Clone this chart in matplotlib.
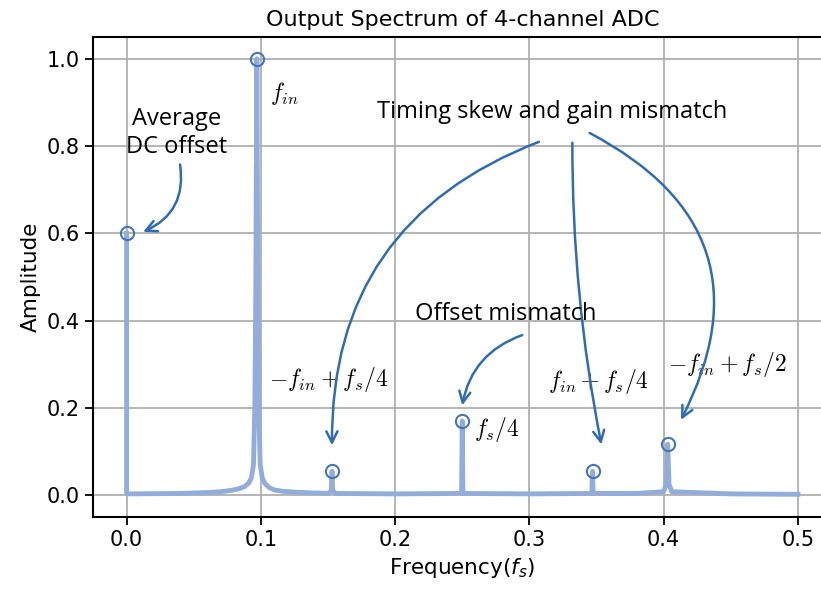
import matplotlib
matplotlib.use('Agg')
import matplotlib.pyplot as plt
import numpy as np

matplotlib.rc('mathtext', fontset='cm')

# spectrum (frequency in fs, amplitude)
freq = [0.0, 0.0, 0.0008, 0.04, 0.06, 0.07, 0.078, 0.084, 0.088, 0.091, 0.093,
        0.0945, 0.0955, 0.0962, 0.097, 0.0978, 0.0985, 0.0995, 0.101, 0.103,
        0.106, 0.11, 0.116, 0.125, 0.14, 0.15,
        0.1525, 0.153, 0.1535, 0.156, 0.2, 0.2495, 0.25, 0.2505, 0.3, 0.3465,
        0.347, 0.3475, 0.38, 0.4, 0.402, 0.403, 0.404, 0.406, 0.45, 0.5]
amp = [0.6, 0.003, 0.003, 0.004, 0.006, 0.008, 0.011, 0.015, 0.02, 0.028, 0.04,
       0.07, 0.2, 0.45, 1.0, 0.45, 0.2, 0.07, 0.04, 0.027,
       0.018, 0.012, 0.009, 0.007, 0.005, 0.004,
       0.01, 0.055, 0.01, 0.004, 0.003, 0.004, 0.17, 0.004, 0.003, 0.004,
       0.055, 0.004, 0.004, 0.008, 0.025, 0.117, 0.025, 0.008, 0.003, 0.002]

# peaks marked with circles
peak_f = [0.0, 0.097, 0.153, 0.25, 0.347, 0.403]
peak_a = [0.6, 1.0, 0.055, 0.17, 0.055, 0.117]

fig = plt.figure(figsize=(8.21, 5.91), dpi=100)
ax = fig.add_axes([0.1133, 0.1252, 0.8995, 0.8122])

ax.plot(freq, amp, color='#92acdc', lw=3.5, solid_joinstyle='round')
ax.plot(peak_f, peak_a, 'o', mfc='none', mec='#4575ba', ms=9.5, mew=1.5)

ax.set_xlim(-0.025, 0.525)
ax.set_ylim(-0.05, 1.05)
ax.set_xticks([0.0, 0.1, 0.2, 0.3, 0.4, 0.5])
ax.set_yticks([0.0, 0.2, 0.4, 0.6, 0.8, 1.0])
ax.tick_params(labelsize=15, width=1.3, length=6)
ax.grid(True, color='#b0b0b0', lw=1.3)
for s in ax.spines.values():
    s.set_linewidth(1.5)

ax.set_title('Output Spectrum of 4-channel ADC', fontsize=16, pad=8)
ax.set_xlabel('Frequency($f_s$)', fontsize=15.5, math_fontfamily='dejavusans')
ax.set_ylabel('Amplitude', fontsize=15.5)

# math labels
ax.text(0.107, 0.905, r'$f_{in}$', fontsize=17)
ax.text(0.106, 0.25, r'$-f_{in}+f_s/4$', fontsize=17)
ax.text(0.259, 0.135, r'$f_s/4$', fontsize=17)
ax.text(0.314, 0.245, r'$f_{in}+f_s/4$', fontsize=17)
ax.text(0.403, 0.285, r'$-f_{in}+f_s/2$', fontsize=17)

# annotations
tkw = dict(family='Open Sans', fontsize=17, ha='center', va='center')
akw = dict(arrowstyle='->', color='#2f6cb3', lw=1.8, mutation_scale=20)
ax.text(0.0375, 0.83, 'Average\nDC offset', linespacing=1.25, **tkw)
ax.annotate('', xy=(0.0104, 0.601), xytext=(0.0395, 0.764),
            arrowprops=dict(connectionstyle='arc3,rad=-0.4', **akw))

ax.text(0.3167, 0.878, 'Timing skew and gain mismatch', **tkw)
ax.annotate('', xy=(0.153, 0.108), xytext=(0.309, 0.812),
            arrowprops=dict(connectionstyle='arc3,rad=0.35', **akw))
ax.annotate('', xy=(0.354, 0.11), xytext=(0.332, 0.814),
            arrowprops=dict(connectionstyle='arc3,rad=0.05', **akw))
ax.annotate('', xy=(0.412, 0.167), xytext=(0.343, 0.833),
            arrowprops=dict(connectionstyle='arc3,rad=-0.5', **akw))

ax.text(0.2825, 0.415, 'Offset mismatch', **tkw)
ax.annotate('', xy=(0.2496, 0.1995), xytext=(0.2966, 0.369),
            arrowprops=dict(connectionstyle='arc3,rad=0.3', **akw))

fig.savefig('out.png', dpi=100)
